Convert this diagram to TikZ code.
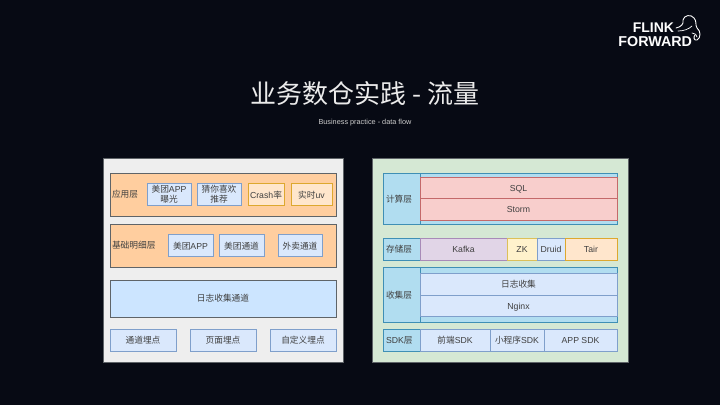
\documentclass[tikz,border=0pt]{standalone}
\usepackage{fontspec}
\setmainfont{Liberation Sans}
\newfontfamily\cjk{Noto Sans CJK SC}
\usetikzlibrary{positioning}
\definecolor{slidebg}{HTML}{070A14}
\definecolor{panelfill}{HTML}{EEEEEE}
\definecolor{greenfill}{HTML}{D5E8D4}
\definecolor{orangefill}{HTML}{FFCE9F}
\definecolor{greyline}{HTML}{5F6468}
\definecolor{bluefill}{HTML}{DAE8FC}
\definecolor{blueline}{HTML}{7F9FCB}
\definecolor{logfill}{HTML}{CCE5FF}
\definecolor{creamfill}{HTML}{FFE6CC}
\definecolor{creamline}{HTML}{DDA82E}
\definecolor{skyfill}{HTML}{B1DDF0}
\definecolor{skyline}{HTML}{3F8FB5}
\definecolor{redfill}{HTML}{F8CECC}
\definecolor{redline}{HTML}{C4696A}
\definecolor{purplefill}{HTML}{E1D5E7}
\definecolor{purpleline}{HTML}{A88BB8}
\definecolor{yellowfill}{HTML}{FFF2CC}
\definecolor{yellowline}{HTML}{DCC05A}
\newcommand{\zh}{\fontsize{8.7}{10}\selectfont\cjk}
\begin{document}
\begin{tikzpicture}[x=1pt, y=-1pt, every node/.style={font=\fontsize{8.7}{10}\selectfont, text=black!75, inner sep=0pt, outer sep=0pt, align=center, anchor=north west},
    oneline/.style={text height=8pt, text depth=1pt},
    twolines/.style={text height=, text depth=},
    panel/.style={draw=greyline, line width=0.8pt, fill=#1, minimum height=204pt},
    tier/.style={draw=greyline, line width=0.8pt, fill=orangefill, minimum width=226pt, minimum height=43pt},
    bluecell/.style={oneline, draw=blueline, line width=0.8pt, fill=bluefill, minimum height=22pt},
    creamcell/.style={oneline, draw=creamline, line width=0.8pt, fill=creamfill, minimum height=22pt},
    redcell/.style={oneline, draw=redline, line width=0.8pt, fill=redfill, minimum width=197pt},
    stack/.style={draw=skyline, line width=0.8pt, fill=skyfill, minimum width=234pt},
    layercell/.style={oneline, draw=skyline, line width=0.8pt, fill=skyfill, text width=31pt, inner xsep=3pt, align=left}]
    % Slide background and heading
    \fill[slidebg] (0,0) rectangle (720,405);
    \node[anchor=center, text=white!92!black, font=\fontsize{26}{30}\selectfont\cjk] (title) at (365,94) {业务数仓实践 - 流量};
    \node[text=white!80!black, font=\fontsize{7.3}{8}\selectfont, below=13pt of title.south, anchor=north] (subtitle) {Business practice - data flow};
    % Logo
    \node[anchor=east, text=white, font=\fontsize{14}{14}\selectfont\bfseries] (flink) at (674,28) {FLINK};
    \node[anchor=east, text=white, font=\fontsize{14.3}{14}\selectfont\bfseries] (forward) at (692,42) {FORWARD};
    \draw[white, line width=0.9pt, line cap=round] (676,28) .. controls (681,27) and (684,24) .. (683,20) .. controls (684,15) and (691,14) .. (694,18) .. controls (697,21) and (695,25) .. (697,28) .. controls (701,31) and (701,38) .. (697,40) .. controls (694,41) and (693,37) .. (695,35);
    \draw[white, line width=0.7pt, line cap=round] (678,31) .. controls (684,31) and (689,29) .. (692,26) (692,33) .. controls (695,33) and (697,35) .. (697,37);
    % Left panel
    \node[panel=panelfill, minimum width=240pt] (leftpanel) at (103,158) {};
    \node[tier] (apptier) at (110,173) {};
    \node[right=2pt of apptier.west, anchor=west, font=\zh] (applabel) {应用层};
    \node[bluecell, twolines, minimum width=44pt, right=37pt of apptier.west, anchor=west] (expose) {{\cjk 美团}APP\\{\cjk 曝光}};
    \node[bluecell, twolines, minimum width=44pt, right=6pt of expose] (guess) {{\cjk 猜你喜欢}\\{\cjk 推荐}};
    \node[creamcell, minimum width=36pt, right=7pt of guess] (crash) {Crash{\cjk 率}};
    \node[creamcell, minimum width=41pt, right=7pt of crash] (realtime) {{\cjk 实时}uv};
    \node[tier, below=8pt of apptier] (basetier) {};
    \node[right=2pt of basetier.west, anchor=west, font=\zh] (baselabel) {基础明细层};
    \node[bluecell, minimum width=45pt, right=58pt of basetier.west, anchor=west] (meituan) {{\cjk 美团}APP};
    \node[bluecell, minimum width=45pt, right=6pt of meituan, font=\zh] (channel) {美团通道};
    \node[bluecell, minimum width=44pt, right=14pt of channel, font=\zh] (delivery) {外卖通道};
    \node[draw=greyline, line width=0.8pt, fill=logfill, minimum width=226pt, minimum height=37pt, below=13pt of basetier, font=\zh] (logchannel) {日志收集通道};
    \node[bluecell, minimum width=66pt, below=12pt of logchannel.south west, anchor=north west, font=\zh] (channelpoint) {通道埋点};
    \node[bluecell, minimum width=66pt, right=14pt of channelpoint, font=\zh] (pagepoint) {页面埋点};
    \node[bluecell, minimum width=66pt, right=14pt of pagepoint, font=\zh] (custompoint) {自定义埋点};
    % Right panel
    \node[panel=greenfill, minimum width=256pt] (rightpanel) at (372,158) {};
    \node[stack, minimum height=51pt] (calcback) at (383,173) {};
    \node[layercell, minimum height=51pt, font=\zh] (calclabel) at (383,173) {计算层};
    \node[redcell, minimum height=21pt] (sql) at (420,177) {SQL};
    \node[redcell, minimum height=22pt, below=0pt of sql] (storm) {Storm};
    \node[layercell, minimum height=22pt, font=\zh] (storelabel) at (383,238) {存储层};
    \node[oneline, draw=purpleline, line width=0.8pt, fill=purplefill, minimum width=87pt, minimum height=22pt, right=0pt of storelabel] (kafka) {Kafka};
    \node[oneline, draw=yellowline, line width=0.8pt, fill=yellowfill, minimum width=30pt, minimum height=22pt, right=0pt of kafka] (zk) {ZK};
    \node[bluecell, minimum width=28pt, right=0pt of zk] (druid) {Druid};
    \node[creamcell, minimum width=52pt, right=0pt of druid] (tair) {Tair};
    \node[stack, minimum height=55pt] (collectback) at (383,267) {};
    \node[layercell, minimum height=55pt, font=\zh] (collectlabel) at (383,267) {收集层};
    \node[bluecell, minimum width=197pt, font=\zh] (logcollect) at (420,273) {日志收集};
    \node[bluecell, minimum width=197pt, minimum height=21pt, below=0pt of logcollect] (nginx) {Nginx};
    \node[layercell, minimum height=22pt] (sdklabel) at (383,329) {SDK{\cjk 层}};
    \node[bluecell, minimum width=70pt, right=0pt of sdklabel] (frontsdk) {{\cjk 前端}SDK};
    \node[bluecell, minimum width=54pt, right=0pt of frontsdk] (minisdk) {{\cjk 小程序}SDK};
    \node[bluecell, minimum width=73pt, right=0pt of minisdk] (appsdk) {APP SDK};
\end{tikzpicture}
\end{document}
